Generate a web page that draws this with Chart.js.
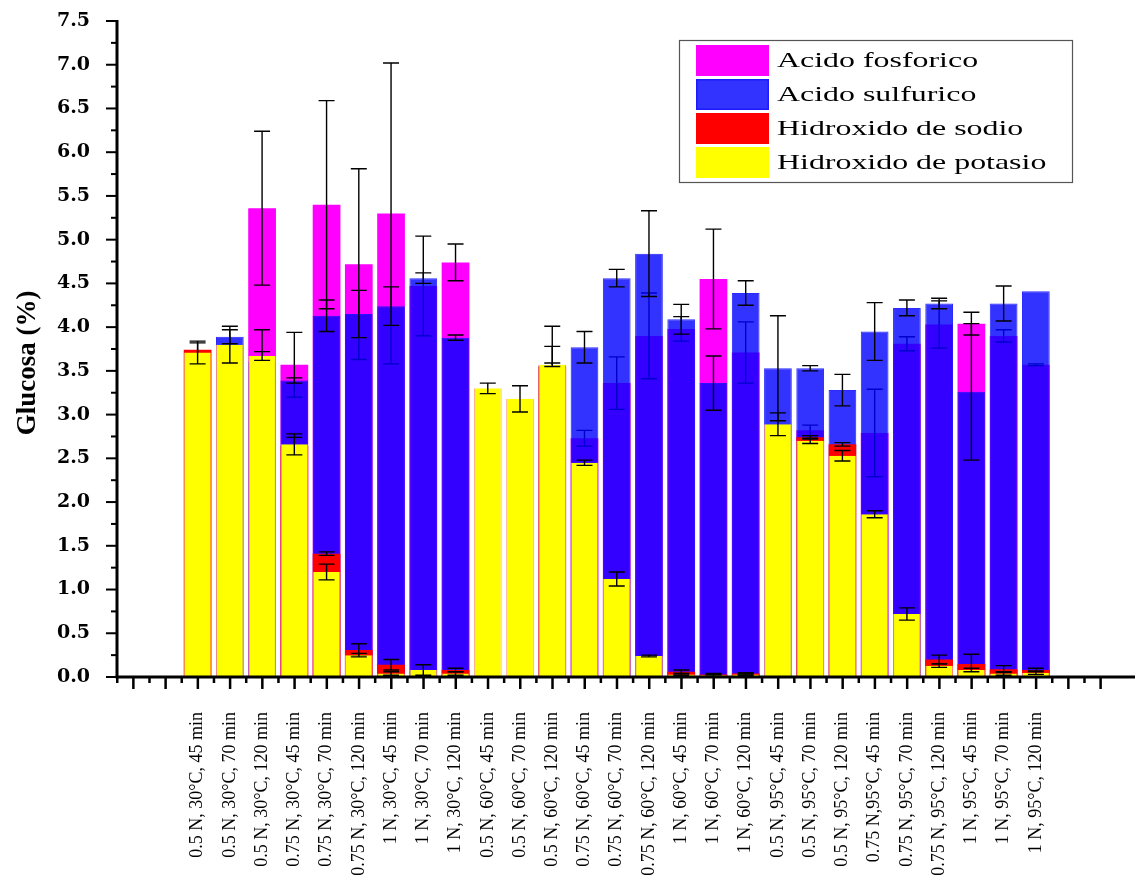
<!DOCTYPE html>
<html>
<head>
<meta charset="utf-8">
<script src="https://cdn.jsdelivr.net/npm/chart.js@4/dist/chart.umd.min.js"></script>
<style>
	html, body { margin: 0; padding: 0; background: #fff; overflow: hidden; }
	#wrap { width: 1145px; height: 880px; }
</style>
</head>
<body>
<div id="wrap"><canvas id="glucosa" width="1145" height="880"></canvas></div>
<script>
const categories = [
	'0.5 N, 30°C, 45 min', '0.5 N, 30°C, 70 min', '0.5 N, 30°C, 120 min',
	'0.75 N, 30°C, 45 min', '0.75 N, 30°C, 70 min', '0.75 N, 30°C, 120 min',
	'1 N, 30°C, 45 min', '1 N, 30°C, 70 min', '1 N, 30°C, 120 min',
	'0.5 N, 60°C, 45 min', '0.5 N, 60°C, 70 min', '0.5 N, 60°C, 120 min',
	'0.75 N, 60°C, 45 min', '0.75 N, 60°C, 70 min', '0.75 N, 60°C, 120 min',
	'1 N, 60°C, 45 min', '1 N, 60°C, 70 min', '1 N, 60°C, 120 min',
	'0.5 N, 95°C, 45 min', '0.5 N, 95°C, 70 min', '0.5 N, 95°C, 120 min',
	'0.75 N,95°C, 45 min', '0.75 N, 95°C, 70 min', '0.75 N, 95°C, 120 min',
	'1 N, 95°C, 45 min', '1 N, 95°C, 70 min', '1 N, 95°C, 120 min',
];

// glucose (%) per treatment, and the standard deviation of each value
const fosforico = [null, null, 5.36, 3.57, 5.40, 4.72, 5.30, 4.47, 4.74, null, null, null, 2.73, 3.36, 3.90, 3.98, 4.55, 3.71, null, 2.82, null, 2.79, 3.81, 4.03, 4.04, 3.90, 3.57];
const fosforicoErr = [0, 0, 0.88, 0.37, 1.19, 1.09, 1.72, 0.57, 0.21, 0, 0, 0, 0.09, 0.30, 0.49, 0.14, 0.57, 0.35, 0, 0.06, 0, 0.50, 0.08, 0.27, 0.13, 0.07, 0.01];

const sulfurico = [null, 3.89, 3.60, 3.39, 4.13, 4.15, 4.24, 4.56, 3.88, null, null, 3.56, 3.77, 4.56, 4.84, 4.09, 3.36, 4.39, 3.53, 3.53, 3.28, 3.95, 4.22, 4.27, 3.26, 4.27, 4.41];
const sulfuricoErr = [0, 0.08, 0.37, 0.03, 0.18, 0.27, 0.22, 0.06, 0.03, 0, 0, 0.45, 0.18, 0.10, 0.49, 0.17, 0.31, 0.14, 0.60, 0.03, 0.18, 0.33, 0.09, 0.06, 0.78, 0.20, 0];

const sodio = [3.74, null, null, 2.64, 1.41, 0.31, 0.14, null, 0.08, null, null, 3.55, null, null, null, 0.06, 0.03, 0.04, null, 2.74, 2.66, null, null, 0.20, 0.15, 0.09, 0.08];
const sodioErr = [0.08, 0, 0, 0.10, 0.02, 0.07, 0.06, 0, 0.02, 0, 0, 0.23, 0, 0, 0, 0.02, 0.01, 0.01, 0, 0.02, 0.02, 0, 0, 0.05, 0.11, 0.04, 0.02];

const potasio = [3.71, 3.80, 3.67, 2.66, 1.20, 0.25, 0.04, 0.08, 0.04, 3.30, 3.18, 3.57, 2.45, 1.12, 0.24, 0.03, 0.02, 0.03, 2.89, 2.70, 2.53, 1.86, 0.72, 0.13, 0.08, 0.04, 0.05];
const potasioErr = [0.13, 0.21, 0.05, 0.12, 0.09, 0.02, 0.02, 0.06, 0.02, 0.06, 0.15, 0.02, 0.03, 0.08, 0.01, 0.01, 0.01, 0.01, 0.13, 0.03, 0.06, 0.04, 0.07, 0.02, 0.02, 0.02, 0.02];

// two empty slots on each side of the bars
const EMPTY = 2;
const pad = (arr, fill) => [...Array(EMPTY).fill(fill), ...arr, ...Array(EMPTY).fill(fill)];

function series(label, data, errors, color, extra) {
	return Object.assign({
		label,
		data: pad(data, null),
		errors: pad(errors, 0),
		backgroundColor: color,
		borderWidth: 0,
		grouped: false,
		categoryPercentage: 1,
		barPercentage: 0.86,
	}, extra);
}

// error bars go right after each dataset so the later (front) bars cover them
const errorBars = {
	id: 'errorBars',
	afterDatasetDraw(chart, args) {
		const ds = chart.data.datasets[args.index];
		const y = chart.scales.y;
		const ctx = chart.ctx;
		ctx.save();
		ctx.strokeStyle = '#000';
		ctx.lineWidth = 1.4;
		args.meta.data.forEach((bar, i) => {
			const v = ds.data[i];
			const e = ds.errors[i];
			if (v === null || !e) return;
			const top = y.getPixelForValue(v + e);
			const bot = y.getPixelForValue(v - e);
			ctx.beginPath();
			ctx.moveTo(bar.x, top);
			ctx.lineTo(bar.x, bot);
			ctx.moveTo(bar.x - 8, top);
			ctx.lineTo(bar.x + 8, top);
			ctx.moveTo(bar.x - 8, bot);
			ctx.lineTo(bar.x + 8, bot);
			ctx.stroke();
		});
		ctx.restore();
	},
};

// thick axis lines with major and minor ticks, plus the y title
const axes = {
	id: 'axes',
	afterDraw(chart) {
		const { ctx, chartArea: a, scales } = chart;
		const x = scales.x, y = scales.y;
		ctx.save();
		ctx.fillStyle = '#000';
		ctx.fillRect(a.left - 1.5, a.top - 1, 3, a.bottom - a.top + 2);
		ctx.fillRect(a.left - 1.5, a.bottom - 1.5, chart.width, 3);
		for (let v = 0; v <= 7.5001; v += 0.25) {
			const py = y.getPixelForValue(v);
			const major = Math.abs(v * 2 - Math.round(v * 2)) < 1e-6;
			ctx.fillRect(a.left - (major ? 11 : 6), py - 1, major ? 11 : 6, 2);
		}
		for (let i = 0; i < chart.data.labels.length; i++) {
			const px = x.getPixelForValue(i);
			ctx.fillRect(px - 1, a.bottom, 2.5, 12);
			const half = px - (x.getPixelForValue(1) - x.getPixelForValue(0)) / 2;
			ctx.fillRect(half - 1, a.bottom, 2.5, 6);
		}
		ctx.translate(28, 363);
		ctx.rotate(-Math.PI / 2);
		ctx.font = 'bold 27px "Liberation Serif"';
		ctx.textAlign = 'center';
		ctx.textBaseline = 'middle';
		ctx.fillText('Glucosa (%)', 0, 0);
		ctx.restore();
	},
};

// boxed legend in the top right corner, listing the datasets back to front
const boxLegend = {
	id: 'boxLegend',
	afterDraw(chart) {
		const ctx = chart.ctx;
		const items = chart.data.datasets.slice().reverse();
		ctx.save();
		ctx.strokeStyle = '#555';
		ctx.lineWidth = 1.2;
		ctx.strokeRect(679.5, 40.5, 393, 142);
		items.forEach((ds, i) => {
			const top = 45 + i * 34;
			ctx.fillStyle = ds.legendColor || ds.backgroundColor;
			ctx.fillRect(696, top, 73, 31);
			if (ds.legendBorder) {
				ctx.strokeStyle = ds.legendBorder;
				ctx.lineWidth = 1.5;
				ctx.strokeRect(696.75, top + 0.75, 71.5, 29.5);
			}
			ctx.save();
			ctx.translate(777, top + 16);
			ctx.scale(1.45, 1);
			ctx.fillStyle = '#000';
			ctx.font = '22px "Liberation Serif"';
			ctx.textBaseline = 'middle';
			ctx.fillText(ds.label, 0, 0);
			ctx.restore();
		});
		ctx.restore();
	},
};

new Chart(document.getElementById('glucosa'), {
	type: 'bar',
	data: {
		labels: pad(categories, ''),
		datasets: [
			series('Hidroxido de potasio', potasio, potasioErr, '#ffff00', {
				borderColor: 'rgba(255,150,130,0.9)',
				borderWidth: { left: 1, right: 1, top: 0, bottom: 0 },
			}),
			series('Hidroxido de sodio', sodio, sodioErr, '#ff0000'),
			series('Acido sulfurico', sulfurico, sulfuricoErr, 'rgba(0,0,255,0.8)', {
				borderColor: 'rgba(20,20,255,0.9)',
				borderWidth: 1,
				legendColor: '#3333ff',
				legendBorder: '#1a1aff',
			}),
			series('Acido fosforico', fosforico, fosforicoErr, '#ff00ff'),
		],
	},
	options: {
		responsive: false,
		animation: false,
		layout: { padding: { top: 21, right: 3, left: 0, bottom: 0 } },
		plugins: {
			legend: { display: false },
			tooltip: { enabled: false },
		},
		scales: {
			x: {
				offset: true,
				grid: { display: false, drawTicks: true, tickLength: 12 },
				border: { display: false },
				ticks: {
					autoSkip: false,
					minRotation: 90,
					maxRotation: 90,
					padding: 23,
					color: '#000',
					font: { family: '"Liberation Serif"', size: 18 },
				},
				afterFit: s => { s.height = 203; },
			},
			y: {
				min: 0,
				max: 7.5,
				grid: { display: false, drawTicks: true, tickLength: 10 },
				border: { display: false },
				ticks: {
					stepSize: 0.5,
					padding: 17,
					color: '#000',
					font: { family: '"DejaVu Serif"', size: 19, weight: 'bold' },
					callback: v => v.toFixed(1),
				},
				afterFit: s => {
					s.width = 117;
					s.paddingTop = 0;
					s.paddingBottom = 0;
				},
			},
		},
	},
	plugins: [errorBars, axes, boxLegend],
});
</script>
</body>
</html>
